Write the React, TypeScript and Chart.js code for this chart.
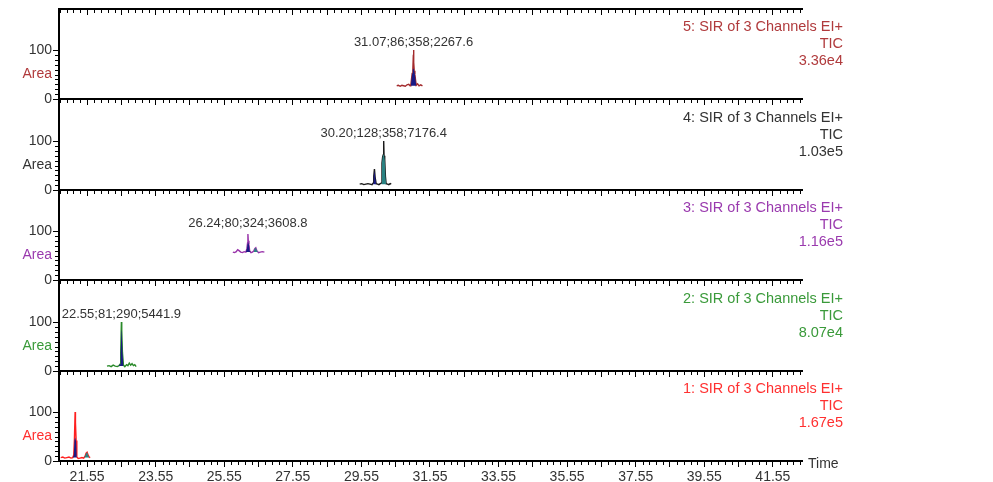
import React, { useEffect, useRef } from 'react';
import { Chart, registerables } from 'chart.js';

Chart.register(...registerables);

// ---------- axes ----------
const X_MIN = 20.73;
const X_MAX = 42.4;
const Y_MAX = 184;
const xMajorTicks = [21.55, 22.55, 23.55, 24.55, 25.55, 26.55, 27.55, 28.55, 29.55, 30.55, 31.55, 32.55, 33.55, 34.55, 35.55, 36.55, 37.55, 38.55, 39.55, 40.55, 41.55];
const xTickLabels = ['21.55', '23.55', '25.55', '27.55', '29.55', '31.55', '33.55', '35.55', '37.55', '39.55', '41.55'];
const yTickValues = [0, 50, 100];
const yTickText = ['0', 'Area', '100'];

// ---------- panel 5 ----------
const p5Time = [30.58, 30.63, 30.68, 30.73, 30.78, 30.83, 30.88, 30.93, 30.97, 30.99, 31.01, 31.03, 31.05, 31.06, 31.07, 31.08, 31.09, 31.11, 31.13, 31.15, 31.19, 31.23, 31.28, 31.33];
const p5Int = [27, 28, 26, 28, 27, 26, 29, 30, 27, 28, 40, 52, 60, 80, 100, 75, 58, 50, 38, 28, 31, 27, 29, 27];
const p5FillTime = [30.99, 31.01, 31.03, 31.05, 31.06, 31.07, 31.08, 31.09, 31.11, 31.13, 31.15];
const p5FillInt = [28, 40, 52, 60, 62, 64, 62, 58, 50, 38, 28];

// ---------- panel 4 ----------
const p4Time = [29.5, 29.56, 29.62, 29.68, 29.74, 29.8, 29.86, 29.89, 29.91, 29.93, 29.95, 29.98, 30.02, 30.06, 30.1, 30.13, 30.15, 30.17, 30.19, 30.2, 30.21, 30.23, 30.25, 30.27, 30.31, 30.35, 30.39, 30.42];
const p4Int = [12, 13, 11, 12, 13, 12, 11, 14, 28, 43, 26, 13, 12, 11, 13, 14, 55, 68, 72, 100, 70, 62, 28, 13, 12, 11, 13, 12];
const p4SmallFillTime = [29.89, 29.91, 29.93, 29.95, 29.98];
const p4SmallFillInt = [14, 28, 40, 26, 13];
const p4MainFillTime = [30.13, 30.15, 30.17, 30.19, 30.2, 30.21, 30.23, 30.25, 30.27];
const p4MainFillInt = [14, 55, 68, 72, 74, 70, 62, 28, 13];

// ---------- panel 3 ----------
const p3Time = [25.8, 25.85, 25.9, 25.94, 25.98, 26.03, 26.08, 26.13, 26.18, 26.21, 26.23, 26.24, 26.25, 26.27, 26.29, 26.33, 26.37, 26.41, 26.44, 26.47, 26.5, 26.55, 26.6, 26.66, 26.72];
const p3Int = [57, 56, 58, 62, 60, 57, 56, 58, 57, 64, 76, 94, 80, 72, 60, 56, 57, 59, 64, 66, 60, 56, 57, 58, 57];
const p3MainFillTime = [26.18, 26.21, 26.23, 26.24, 26.25, 26.27, 26.29, 26.33];
const p3MainFillInt = [57, 64, 74, 78, 76, 72, 60, 56];
const p3SideFillTime = [26.41, 26.44, 26.47, 26.5, 26.55];
const p3SideFillInt = [59, 64, 66, 60, 56];

// ---------- panel 2 ----------
const p2Time = [22.13, 22.19, 22.25, 22.31, 22.37, 22.43, 22.48, 22.51, 22.53, 22.55, 22.56, 22.58, 22.61, 22.65, 22.7, 22.74, 22.78, 22.82, 22.86, 22.9, 22.94, 22.98];
const p2Int = [10, 11, 9, 12, 10, 9, 11, 14, 38, 100, 82, 38, 12, 9, 13, 11, 16, 12, 15, 11, 13, 9];
const p2FillTime = [22.48, 22.51, 22.53, 22.55, 22.56, 22.58, 22.61];
const p2FillInt = [11, 14, 38, 84, 80, 38, 12];

// ---------- panel 1 ----------
const p1Time = [20.78, 20.84, 20.9, 20.96, 21.02, 21.08, 21.13, 21.16, 21.18, 21.2, 21.21, 21.23, 21.25, 21.29, 21.34, 21.4, 21.45, 21.49, 21.52, 21.55, 21.58, 21.61, 21.64];
const p1Int = [7, 8, 6, 7, 8, 6, 7, 12, 45, 100, 78, 42, 8, 5, 6, 7, 6, 10, 16, 18, 12, 8, 7];
const p1MainFillTime = [21.13, 21.16, 21.18, 21.2, 21.21, 21.23, 21.25];
const p1MainFillInt = [7, 12, 42, 48, 46, 40, 8];
const p1SideFillTime = [21.45, 21.49, 21.52, 21.55, 21.58, 21.61];
const p1SideFillInt = [6, 10, 16, 18, 12, 8];

// ---------- styling ----------
const FONT = "'Liberation Sans', Arial, Helvetica, sans-serif";
const GRAY = '#333333';
const NAVY = '#1a1a84';
const TEAL = '#2a8282';
const PANEL_H = 90;
const PAD_TOP = 14;
const CHART_LEFT = 59;
const CHART_RIGHT = 802;
const W = 993;

type Fill = { time: number[]; val: number[]; base: number; color: string };
type Panel = {
  key: string;
  baseline: number;
  phantom?: boolean;
  last?: boolean;
  title?: string;
  sub?: string;
  scale?: string;
  color?: string;
  line?: string;
  time?: number[];
  val?: number[];
  fills?: Fill[];
  ann?: { text: string; t: number };
};

const panels: Panel[] = [
  { key: 'p0', baseline: 9, phantom: true },
  {
    key: 'p5', baseline: 99, title: '5: SIR of 3 Channels EI+', sub: 'TIC', scale: '3.36e4',
    color: '#b03a3c', line: '#a32a2c', time: p5Time, val: p5Int,
    fills: [{ time: p5FillTime, val: p5FillInt, base: 27, color: NAVY }],
    ann: { text: '31.07;86;358;2267.6', t: 31.07 },
  },
  {
    key: 'p4', baseline: 190, title: '4: SIR of 3 Channels EI+', sub: 'TIC', scale: '1.03e5',
    color: GRAY, line: '#1a1a1a', time: p4Time, val: p4Int,
    fills: [
      { time: p4SmallFillTime, val: p4SmallFillInt, base: 12, color: NAVY },
      { time: p4MainFillTime, val: p4MainFillInt, base: 12, color: TEAL },
    ],
    ann: { text: '30.20;128;358;7176.4', t: 30.2 },
  },
  {
    key: 'p3', baseline: 280, title: '3: SIR of 3 Channels EI+', sub: 'TIC', scale: '1.16e5',
    color: '#9a3aae', line: '#9933aa', time: p3Time, val: p3Int,
    fills: [
      { time: p3MainFillTime, val: p3MainFillInt, base: 57, color: NAVY },
      { time: p3SideFillTime, val: p3SideFillInt, base: 57, color: TEAL },
    ],
    ann: { text: '26.24;80;324;3608.8', t: 26.24 },
  },
  {
    key: 'p2', baseline: 371, title: '2: SIR of 3 Channels EI+', sub: 'TIC', scale: '8.07e4',
    color: '#3a9a3a', line: '#2a8a2a', time: p2Time, val: p2Int,
    fills: [{ time: p2FillTime, val: p2FillInt, base: 10, color: NAVY }],
    ann: { text: '22.55;81;290;5441.9', t: 22.55 },
  },
  {
    key: 'p1', baseline: 461, last: true, title: '1: SIR of 3 Channels EI+', sub: 'TIC', scale: '1.67e5',
    color: '#ff3030', line: '#ff2020', time: p1Time, val: p1Int,
    fills: [
      { time: p1MainFillTime, val: p1MainFillInt, base: 7, color: NAVY },
      { time: p1SideFillTime, val: p1SideFillInt, base: 7, color: TEAL },
    ],
  },
];

const chromPlugin = {
  id: 'chromPanel',
  afterDraw(chart: any, _args: any, opts: any) {
    const { ctx, chartArea } = chart;
    const xs = chart.scales.x;
    const ys = chart.scales.y;
    const p: Panel = opts.panel;
    ctx.save();
    ctx.strokeStyle = '#000';
    ctx.lineWidth = 1;
    ctx.beginPath();
    for (let k = 0; k < 200; k++) {
      const v = 20.75 + k * 0.2;
      if (v > X_MAX) break;
      if ((k - 4) % 5 === 0) continue;
      const px = Math.round(xs.getPixelForValue(v)) + 0.5;
      ctx.moveTo(px, chartArea.bottom);
      ctx.lineTo(px, chartArea.bottom + 4);
    }
    if (!p.phantom) {
      for (let v = 10; v <= 90; v += 10) {
        const py = Math.round(ys.getPixelForValue(v)) + 0.5;
        ctx.moveTo(chartArea.left - 4, py);
        ctx.lineTo(chartArea.left, py);
      }
    }
    ctx.stroke();

    if (p.ann) {
      ctx.font = `13px ${FONT}`;
      ctx.fillStyle = GRAY;
      ctx.textAlign = 'center';
      ctx.textBaseline = 'middle';
      ctx.fillText(p.ann.text, xs.getPixelForValue(p.ann.t), ys.getPixelForValue(116));
    }
    if (p.title) {
      ctx.font = `14.5px ${FONT}`;
      ctx.fillStyle = p.color;
      ctx.textAlign = 'right';
      ctx.textBaseline = 'middle';
      const rx = chartArea.right + 41;
      ctx.fillText(p.title, rx, chartArea.top + 17.5);
      ctx.fillText(p.sub, rx, chartArea.top + 34.5);
      ctx.fillText(p.scale, rx, chartArea.top + 51.5);
    }
    if (p.last) {
      ctx.font = `14px ${FONT}`;
      ctx.fillStyle = GRAY;
      ctx.textAlign = 'left';
      ctx.textBaseline = 'middle';
      ctx.fillText('Time', chartArea.right + 6, chartArea.bottom + 3);
    }
    ctx.restore();
  },
};

function PanelChart({ panel }: { panel: Panel }) {
  const ref = useRef<HTMLCanvasElement>(null);
  const bottomH = panel.last ? 26 : 14;
  const h = PAD_TOP + PANEL_H + bottomH;
  const top = panel.baseline - PANEL_H - PAD_TOP;

  useEffect(() => {
    const datasets: any[] = [];
    if (!panel.phantom && panel.time && panel.val) {
      datasets.push({
        data: panel.time.map((t, i) => ({ x: t, y: panel.val![i] })),
        borderColor: panel.line,
        borderWidth: 1.4,
        pointRadius: 0,
        fill: false,
        tension: 0,
        order: 1,
      });
      (panel.fills || []).forEach((f) => {
        datasets.push({
          data: f.time.map((t, i) => ({ x: t, y: f.val[i] })),
          borderWidth: 0,
          borderColor: 'rgba(0,0,0,0)',
          backgroundColor: f.color,
          pointRadius: 0,
          fill: { value: f.base },
          tension: 0,
          order: 0,
        });
      });
    }
    const chart = new Chart(ref.current as HTMLCanvasElement, {
      type: 'line',
      data: { datasets },
      options: {
        animation: false,
        responsive: false,
        maintainAspectRatio: false,
        devicePixelRatio: 1,
        layout: { padding: { top: PAD_TOP, left: 0, right: W - CHART_RIGHT, bottom: 0 } },
        plugins: {
          legend: { display: false },
          tooltip: { enabled: false },
          chromPanel: { panel },
        } as any,
        scales: {
          x: {
            type: 'linear',
            min: X_MIN,
            max: X_MAX,
            position: 'bottom',
            border: { display: true, color: '#000', width: 2 },
            grid: { display: true, drawOnChartArea: false, drawTicks: true, tickLength: 6, color: '#000', tickColor: '#000', tickWidth: 1 },
            ticks: {
              display: !!panel.last,
              autoSkip: false,
              maxRotation: 0,
              padding: 2,
              color: GRAY,
              font: { family: FONT, size: 14 },
              callback: (v: any) => {
                const s = Number(v).toFixed(2);
                return xTickLabels.includes(s) ? s : '';
              },
            },
            afterBuildTicks: (s: any) => {
              s.ticks = xMajorTicks.map((v) => ({ value: v }));
            },
            afterFit: (s: any) => {
              s.height = bottomH;
              s.paddingLeft = 0;
              s.paddingRight = 0;
            },
          },
          y: {
            type: 'linear',
            min: 0,
            max: Y_MAX,
            position: 'left',
            border: { display: !panel.phantom, color: '#000', width: 2 },
            grid: {
              display: !panel.phantom,
              drawOnChartArea: false,
              drawTicks: true,
              tickLength: 6,
              color: '#000',
              tickWidth: 1,
              tickColor: (c: any) => (c.tick && c.tick.value === 50 ? 'rgba(0,0,0,0)' : '#000'),
            },
            ticks: {
              display: !panel.phantom,
              padding: 1,
              font: { family: FONT, size: 14 },
              color: (c: any) => (c.tick && c.tick.value === 50 ? panel.color : GRAY),
              callback: (v: any) => {
                const i = yTickValues.indexOf(Number(v));
                return i >= 0 ? yTickText[i] : '';
              },
            },
            afterBuildTicks: (s: any) => {
              s.ticks = yTickValues.map((v) => ({ value: v }));
            },
            afterFit: (s: any) => {
              s.width = CHART_LEFT;
              s.paddingTop = 0;
              s.paddingBottom = 0;
            },
          },
        },
      } as any,
      plugins: [chromPlugin as any],
    });
    return () => chart.destroy();
  }, []);

  return (
    <canvas
      ref={ref}
      width={W}
      height={h}
      style={{ position: 'absolute', left: 0, top, width: W, height: h }}
    />
  );
}

export default function App() {
  return (
    <div style={{ position: 'absolute', left: 0, top: 0, width: W, height: 482, overflow: 'hidden', background: '#fff' }}>
      {panels.map((p) => (
        <PanelChart key={p.key} panel={p} />
      ))}
    </div>
  );
}
